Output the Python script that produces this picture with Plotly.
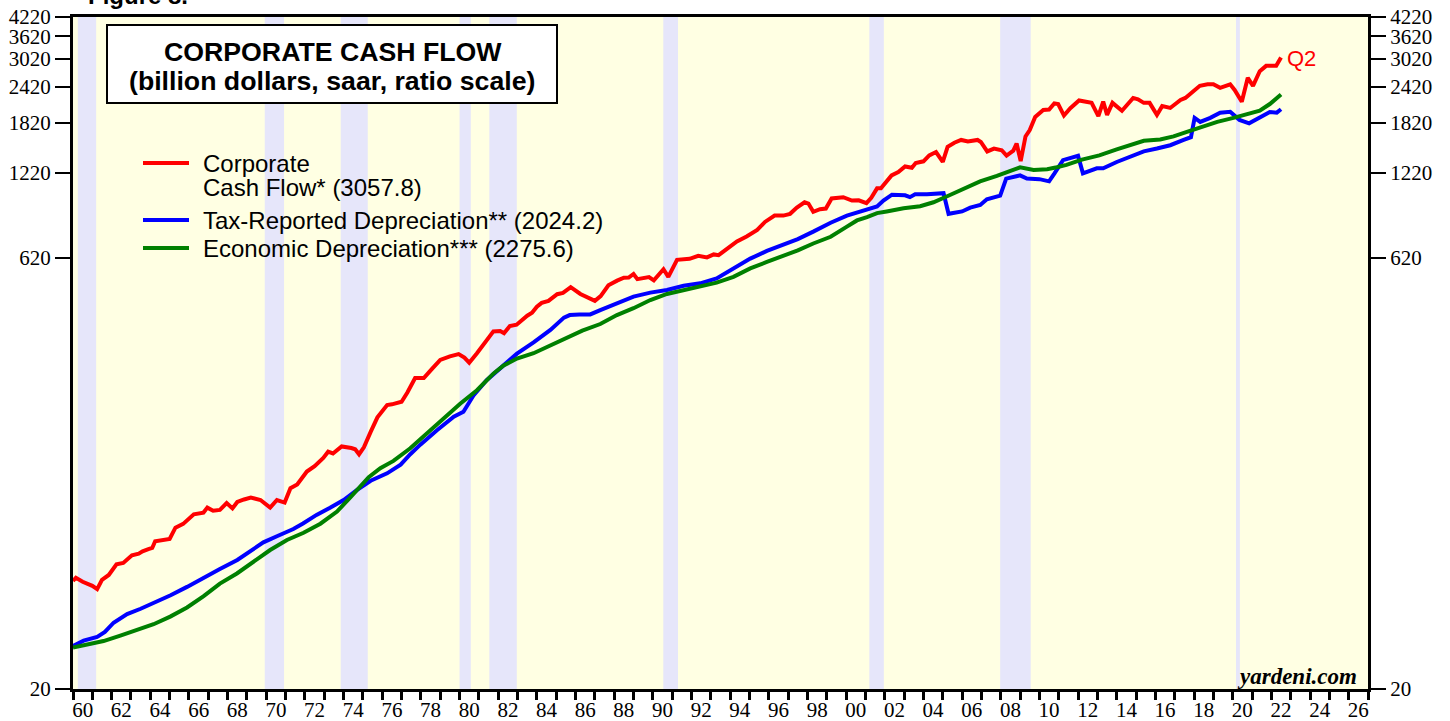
import math
import plotly.graph_objects as go

# ---------------- data ----------------
red_years = [1960.0, 1960.15, 1960.5, 1960.8, 1961.0, 1961.25, 1961.5, 1961.85, 1962.25, 1962.6,
             1963.05, 1963.4, 1963.6, 1963.9, 1964.1, 1964.25, 1964.6, 1965.0, 1965.3, 1965.7,
             1966.25, 1966.75, 1966.95, 1967.25, 1967.6, 1967.95, 1968.25, 1968.5, 1968.85, 1969.2,
             1969.7, 1970.2, 1970.55, 1970.95, 1971.25, 1971.6, 1972.1, 1972.5, 1972.95, 1973.2,
             1973.45, 1973.9, 1974.4, 1974.6, 1974.8, 1975.05, 1975.4, 1975.75, 1976.25, 1976.5,
             1977.0, 1977.3, 1977.7, 1978.15, 1978.55, 1979.0, 1979.5, 1979.95, 1980.25, 1980.5,
             1980.9, 1981.25, 1981.75, 1982.1, 1982.3, 1982.6, 1982.95, 1983.5, 1983.75, 1984.0,
             1984.25, 1984.6, 1985.05, 1985.35, 1985.75, 1986.25, 1986.7, 1987.0, 1987.3, 1987.7,
             1988.15, 1988.5, 1988.75, 1989.0, 1989.2, 1989.6, 1989.8, 1990.05, 1990.55, 1990.8,
             1991.25, 1991.9, 1992.35, 1992.8, 1993.15, 1993.4, 1993.85, 1994.35, 1994.85, 1995.4,
             1995.8, 1996.3, 1996.75, 1997.1, 1997.45, 1997.85, 1998.05, 1998.3, 1998.65, 1998.95,
             1999.25, 1999.85, 2000.3, 2000.65, 2001.05, 2001.3, 2001.6, 2001.8, 2002.35, 2002.7,
             2003.05, 2003.4, 2003.6, 2004.0, 2004.3, 2004.65, 2005.0, 2005.25, 2005.6, 2005.95,
             2006.3, 2006.8, 2006.97, 2007.3, 2007.65, 2008.05, 2008.3, 2008.65, 2008.82, 2009.03,
             2009.28, 2009.5, 2009.78, 2010.2, 2010.5, 2010.77, 2010.97, 2011.27, 2011.6, 2012.05,
             2012.7, 2013.05, 2013.3, 2013.5, 2013.78, 2014.27, 2014.85, 2015.1, 2015.4, 2015.7,
             2016.08, 2016.35, 2016.77, 2017.3, 2017.55, 2017.93, 2018.3, 2018.7, 2019.0, 2019.35,
             2019.87, 2020.1, 2020.47, 2020.78, 2021.05, 2021.4, 2021.73, 2022.25, 2022.5]
red_vals = [47.3, 48.5, 47.0, 46.3, 45.5, 44.3, 47.7, 49.6, 54.0, 54.6,
            58.0, 58.8, 59.9, 60.9, 61.5, 64.9, 65.3, 66.1, 72.3, 74.5,
            80.4, 81.5, 84.8, 82.7, 83.3, 87.9, 84.3, 88.7, 90.5, 91.8,
            90.1, 84.8, 90.1, 88.3, 99.0, 102.0, 113.0, 118.0, 126.0, 132.4,
            130.5, 138.0, 136.3, 135.0, 129.7, 137.0, 155.0, 174.0, 192.0, 193.0,
            197.0, 212.0, 238.0, 238.0, 255.0, 275.0, 283.0, 288.0, 280.0, 269.0,
            290.0, 312.0, 345.0, 346.0, 340.0, 360.0, 364.0, 391.0, 400.0, 420.0,
            433.0, 440.0, 464.0, 469.0, 491.0, 465.0, 449.0, 440.0, 457.0, 498.0,
            517.0, 529.0, 530.0, 545.0, 523.0, 530.0, 532.0, 518.0, 566.0, 533.0,
            610.0, 615.0, 630.0, 622.0, 637.0, 633.0, 666.0, 706.0, 735.0, 774.0,
            825.0, 868.0, 868.0, 880.0, 925.0, 965.0, 955.0, 894.0, 913.0, 918.0,
            995.0, 1005.0, 978.0, 980.0, 958.0, 1000.0, 1078.0, 1078.0, 1195.0, 1227.0,
            1283.0, 1270.0, 1319.0, 1337.0, 1402.0, 1440.0, 1330.0, 1500.0, 1550.0, 1585.0,
            1565.0, 1585.0, 1560.0, 1447.0, 1480.0, 1460.0, 1400.0, 1455.0, 1540.0, 1340.0,
            1630.0, 1716.0, 1905.0, 2013.0, 2020.0, 2120.0, 2110.0, 1925.0, 2040.0, 2170.0,
            2130.0, 1915.0, 2150.0, 1935.0, 2130.0, 2000.0, 2215.0, 2190.0, 2130.0, 2130.0,
            1935.0, 2075.0, 2045.0, 2180.0, 2215.0, 2320.0, 2440.0, 2470.0, 2470.0, 2400.0,
            2470.0, 2360.0, 2150.0, 2600.0, 2440.0, 2740.0, 2860.0, 2860.0, 3057.8]

blue_years = [1960.0, 1960.55, 1961.25, 1961.65, 1962.1, 1962.8, 1963.5, 1964.35, 1965.05, 1965.9,
              1966.75, 1967.6, 1968.5, 1969.35, 1969.85, 1970.55, 1971.4, 1971.9, 1972.6, 1973.3,
              1974.0, 1974.7, 1975.4, 1976.25, 1976.95, 1977.45, 1977.97, 1978.83, 1979.7, 1980.2,
              1980.72, 1981.4, 1982.1, 1982.97, 1983.83, 1984.7, 1985.4, 1985.7, 1986.2, 1986.76,
              1987.28, 1988.14, 1989.0, 1989.87, 1990.73, 1991.59, 1992.45, 1993.3, 1994.17, 1995.04,
              1995.9, 1996.7, 1997.5, 1998.3, 1999.2, 2000.04, 2000.9, 2001.6, 2001.93, 2002.37,
              2003.05, 2003.3, 2003.57, 2004.18, 2005.04, 2005.3, 2006.0, 2006.42, 2006.94, 2007.28,
              2007.97, 2008.28, 2009.0, 2009.35, 2010.0, 2010.5, 2010.78, 2011.22, 2012.0, 2012.25,
              2012.97, 2013.3, 2014.0, 2014.87, 2015.4, 2016.08, 2016.77, 2017.46, 2017.84, 2018.03,
              2018.32, 2018.84, 2019.35, 2019.87, 2020.35, 2020.85, 2021.4, 2021.92, 2022.28, 2022.5]
blue_vals = [28.2, 29.4, 30.3, 31.5, 33.9, 36.3, 37.9, 40.1, 42.2, 45.1,
             48.6, 52.0, 55.9, 61.2, 64.3, 67.5, 71.5, 74.7, 80.0, 84.7,
             90.1, 97.6, 105.0, 111.4, 119.4, 129.7, 140.0, 157.0, 175.0, 182.0,
             207.0, 234.0, 258.0, 289.0, 316.0, 349.0, 385.0, 393.0, 395.0, 395.0,
             409.0, 432.0, 455.0, 470.0, 480.0, 496.0, 506.0, 526.0, 570.0, 616.0,
             655.0, 685.0, 720.0, 764.0, 820.0, 868.0, 900.0, 934.0, 978.0, 1025.0,
             1020.0, 1005.0, 1028.0, 1028.0, 1037.0, 880.0, 897.0, 925.0, 944.0, 988.0,
             1018.0, 1165.0, 1195.0, 1165.0, 1160.0, 1140.0, 1215.0, 1350.0, 1398.0, 1215.0,
             1265.0, 1265.0, 1330.0, 1402.0, 1447.0, 1480.0, 1520.0, 1585.0, 1620.0, 1890.0,
             1830.0, 1890.0, 1970.0, 1985.0, 1860.0, 1810.0, 1890.0, 1980.0, 1970.0, 2024.2]

green_years = [1960.0, 1960.72, 1961.58, 1962.45, 1963.3, 1964.17, 1965.03, 1965.9, 1966.76, 1967.6,
               1968.48, 1969.34, 1970.2, 1971.07, 1971.93, 1972.8, 1973.66, 1974.35, 1974.86, 1975.3,
               1975.9, 1976.58, 1977.45, 1978.3, 1979.17, 1980.03, 1980.9, 1981.76, 1982.28, 1982.97,
               1983.83, 1984.7, 1985.55, 1986.35, 1987.28, 1988.14, 1989.0, 1989.87, 1990.73, 1991.59,
               1992.45, 1993.3, 1994.17, 1995.04, 1995.9, 1996.7, 1997.5, 1998.3, 1999.2, 2000.04,
               2000.56, 2001.08, 2001.6, 2002.1, 2002.97, 2003.83, 2004.52, 2005.2, 2006.07, 2006.93,
               2007.8, 2008.66, 2009.0, 2009.7, 2010.4, 2010.9, 2011.4, 2012.2, 2013.1, 2014.0,
               2014.87, 2015.4, 2016.25, 2016.94, 2017.63, 2018.32, 2019.2, 2020.04, 2020.9, 2021.4,
               2021.92, 2022.5]
green_vals = [27.8, 28.5, 29.3, 30.6, 32.0, 33.5, 35.6, 38.3, 41.9, 46.3,
              50.2, 55.1, 60.5, 65.5, 69.4, 74.6, 82.2, 92.0, 100.0, 108.0,
              116.0, 123.0, 136.0, 153.0, 172.0, 194.0, 216.0, 247.0, 263.0, 278.0,
              290.0, 308.0, 326.0, 347.0, 366.0, 393.0, 415.0, 443.0, 465.0, 480.0,
              492.0, 509.0, 533.0, 570.0, 600.0, 627.0, 658.0, 695.0, 733.0, 795.0,
              835.0, 858.0, 885.0, 897.0, 920.0, 935.0, 965.0, 1010.0, 1078.0, 1140.0,
              1190.0, 1255.0, 1275.0, 1248.0, 1256.0, 1275.0, 1300.0, 1356.0, 1402.0, 1470.0,
              1530.0, 1575.0, 1590.0, 1630.0, 1690.0, 1750.0, 1830.0, 1890.0, 1950.0, 2000.0,
              2110.0, 2275.6]

recession_starts = [1960.25, 1969.92, 1973.85, 1980.0, 1981.54, 1990.54, 2001.2, 2007.97, 2020.17]
recession_ends = [1961.2, 1970.92, 1975.25, 1980.58, 1982.96, 1991.3, 2001.95, 2009.55, 2020.37]

y_tick_vals = [20, 620, 1220, 1820, 2420, 3020, 3620, 4220]
x_tick_years = list(range(1960, 2028))
x_label_years = list(range(1960, 2027, 2))
x_label_text = [f"{y % 100:02d}" for y in x_label_years]

series_names = ["Corporate Cash Flow* (3057.8)", "Tax-Reported Depreciation** (2024.2)",
                "Economic Depreciation*** (2275.6)"]
legend_lines = [["Corporate", "Cash Flow* (3057.8)"], ["Tax-Reported Depreciation** (2024.2)"],
                ["Economic Depreciation*** (2275.6)"]]
series_colors = ["#FF0000", "#0000FF", "#008000"]
title_lines = ["CORPORATE CASH FLOW", "(billion dollars, saar, ratio scale)"]

# ---------------- layout geometry (pixels) ----------------
W, H = 1450, 721
L, R, T, B = 73, 1368, 17, 689
PW, PH = R - L, B - T


def px(x):
    return (x - L) / PW


def py(y):
    return (B - y) / PH


fig = go.Figure()

for xs, ys, name, col in zip([red_years, blue_years, green_years],
                             [red_vals, blue_vals, green_vals], series_names, series_colors):
    fig.add_trace(go.Scatter(x=xs, y=ys, mode="lines", name=name,
                             line=dict(color=col, width=4), showlegend=False,
                             hoverinfo="x+y"))

# invisible trace to activate the right axis
fig.add_trace(go.Scatter(x=[blue_years[-1]], y=[blue_vals[-1]], yaxis="y2", mode="markers",
                         marker=dict(opacity=0), showlegend=False, hoverinfo="skip"))

shapes = []
for s, e in zip(recession_starts, recession_ends):
    shapes.append(dict(type="rect", xref="x", yref="paper", x0=s, x1=e, y0=0, y1=1,
                       fillcolor="#E6E6FA", line=dict(width=0), layer="below"))

# title box
shapes.append(dict(type="rect", xref="paper", yref="paper", x0=px(107), x1=px(557),
                   y0=py(103), y1=py(25), fillcolor="white",
                   line=dict(color="black", width=2), layer="above"))

# legend lines
legend_y = [163, 220, 248]
for yy, col in zip(legend_y, series_colors):
    shapes.append(dict(type="line", xref="paper", yref="paper", x0=px(143), x1=px(189),
                       y0=py(yy), y1=py(yy), line=dict(color=col, width=4)))

annotations = []
annotations.append(dict(text="<b>" + title_lines[0] + "</b>", xref="paper", yref="paper",
                        x=px(333), y=py(52.5), xanchor="center", yanchor="middle", showarrow=False,
                        font=dict(family="Liberation Sans, Arial", size=26.7, color="black")))
annotations.append(dict(text="<b>" + title_lines[1] + "</b>", xref="paper", yref="paper",
                        x=px(332), y=py(80.5), xanchor="center", yanchor="middle", showarrow=False,
                        font=dict(family="Liberation Sans, Arial", size=26.7, color="black")))

legend_text_y = [[163, 187.5], [220], [248]]
for lines, ys in zip(legend_lines, legend_text_y):
    for t, yy in zip(lines, ys):
        annotations.append(dict(text=t, xref="paper", yref="paper", x=px(201), y=py(yy),
                                xanchor="left", yanchor="middle", showarrow=False,
                                font=dict(family="Liberation Sans, Arial", size=24, color="black")))

annotations.append(dict(text="Q2", xref="x", yref="y", x=red_years[-1],
                        y=math.log10(red_vals[-1]), xanchor="left", yanchor="middle",
                        xshift=4, yshift=-1, showarrow=False,
                        font=dict(family="Liberation Sans, Arial", size=22, color="#FF0000")))

annotations.append(dict(text="<b><i>yardeni.com</i></b>", xref="paper", yref="paper",
                        x=px(1359), y=py(676), xanchor="right", yanchor="middle", showarrow=False,
                        font=dict(family="Liberation Serif, Times New Roman", size=23,
                                  color="black")))

annotations.append(dict(text="<b>Figure 8.</b>", xref="paper", yref="paper",
                        x=px(86), y=py(11), xanchor="left", yanchor="bottom", showarrow=False,
                        font=dict(family="Liberation Sans, Arial", size=24, color="black")))

tick_font = dict(family="Liberation Serif, Times New Roman", size=21, color="black")
yrange = [math.log10(y_tick_vals[0]), math.log10(y_tick_vals[-1])]
yaxis_common = dict(type="log", range=yrange, tickmode="array", tickvals=y_tick_vals,
                    ticktext=[str(v) for v in y_tick_vals], ticks="outside", ticklen=15,
                    tickwidth=2, tickcolor="black", showgrid=False, zeroline=False,
                    showline=True, linewidth=3, linecolor="black", tickfont=tick_font,
                    ticklabelstandoff=0, fixedrange=True, automargin=False)

fig.update_layout(
    width=W, height=H,
    margin=dict(l=L, r=W - R, t=T, b=H - B, pad=0, autoexpand=False),
    paper_bgcolor="white",
    plot_bgcolor="#FFFFE3",
    showlegend=False,
    xaxis=dict(range=[1960, 2027], tickmode="array",
               tickvals=[y + 0.5 for y in x_label_years], ticktext=x_label_text,
               ticks="", showgrid=False, zeroline=False, showline=True, linewidth=3,
               linecolor="black", mirror=True, tickfont=tick_font, ticklabelstandoff=0,
               automargin=False, fixedrange=True,
               minor=dict(tickmode="array", tickvals=x_tick_years, ticks="outside", ticklen=8,
                          tickwidth=3, tickcolor="black", showgrid=False)),
    yaxis=dict(side="left", **yaxis_common),
    yaxis2=dict(side="right", overlaying="y", **yaxis_common),
    shapes=shapes,
    annotations=annotations,
)

fig.write_html("out.html", config={"displayModeBar": False},
               post_script="document.body.style.margin='0px';")
